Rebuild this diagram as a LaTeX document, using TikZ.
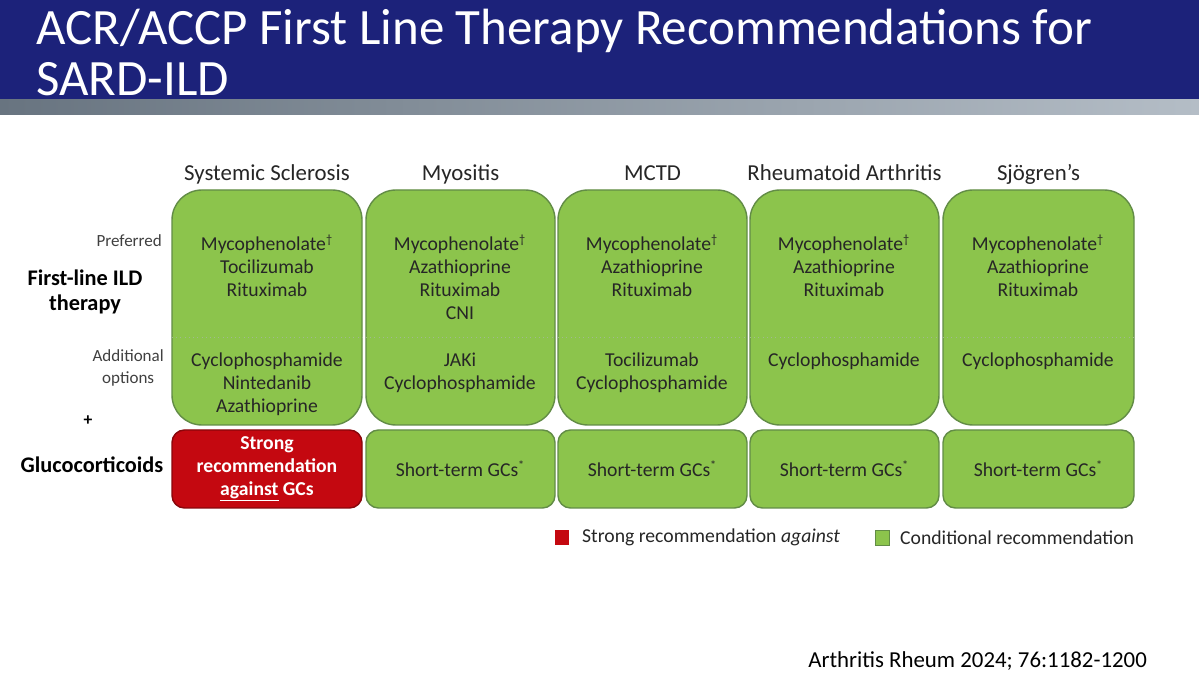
\documentclass[tikz,border=0pt]{standalone}
\usepackage{fontspec}
\setmainfont{Carlito}
\usetikzlibrary{positioning}
\definecolor{navy}{RGB}{28,34,122}
\definecolor{gfill}{RGB}{140,196,76}
\definecolor{gline}{RGB}{98,140,70}
\definecolor{rfill}{RGB}{196,8,16}
\definecolor{bar}{RGB}{130,145,160}
\newcommand{\dg}{\textsuperscript{\scriptsize †}}
\begin{document}
\begin{tikzpicture}[x=0.02cm,y=-0.02cm,
  topbox/.style={draw=gline,line width=0.8pt,fill=gfill,rounded corners=0.6cm},
  botbox/.style={draw=gline,line width=0.8pt,fill=gfill,rounded corners=0.25cm},
  txt/.style={font=\fontsize{11.2}{13.1}\selectfont,align=center,text=black!85},
  hdr/.style={font=\fontsize{13}{14}\selectfont,text=black!85},
  lab/.style={font=\fontsize{9.7}{12}\selectfont,text=black!75,align=right},
  biglab/.style={font=\fontsize{12.7}{14}\selectfont\bfseries,align=center}]
\useasboundingbox (0,0) rectangle (1199,688);
\fill[white] (0,0) rectangle (1199,688);
\fill[navy] (0,0) rectangle (1199,100);
\shade[left color=bar!80!black,right color=bar!60] (0,100) rectangle (1199,115);
\node[anchor=base west,text=white,font=\fontsize{29}{29}\selectfont] (t1) at (30,45) {ACR/ACCP First Line Therapy Recommendations for};
\node[anchor=base west,text=white,font=\fontsize{29}{29}\selectfont] (t2) at (30,96) {SARD-ILD};
% columns
\foreach \i/\a/\b/\h in {1/172/362/Systemic Sclerosis,2/366/555/Myositis,3/558/747/MCTD,4/750/939/Rheumatoid Arthritis,5/943/1134/Sjögren’s}{
  \draw[topbox] (\a,190) rectangle (\b,425);
  \draw[gline!60,dotted] (\a,337) -- (\b,337);
  \node[hdr,anchor=base] (h\i) at ({(\a+\b)/2},181) {\h};
}
\foreach \i/\a/\b in {2/366/555,3/558/747,4/750/939,5/943/1134}{
  \draw[botbox] (\a,430) rectangle (\b,508);
  \node[txt] (g\i) at ({(\a+\b)/2},469) {Short-term GCs\textsuperscript{\scriptsize *}};
}
\draw[botbox,fill=rfill,draw=rfill!70!black] (172,430) rectangle (362,508);
\node[txt,text=white,font=\fontsize{11.2}{13.1}\selectfont\bfseries] (g1) at (267,469) {Strong\\recommendation\\\underline{against} GCs};
% preferred
\node[txt,anchor=north] (p1) at (267,229) {Mycophenolate\dg\\Tocilizumab\\Rituximab};
\node[txt,anchor=north] (p2) at (460,229) {Mycophenolate\dg\\Azathioprine\\Rituximab\\CNI};
\node[txt,anchor=north] (p3) at (652,229) {Mycophenolate\dg\\Azathioprine\\Rituximab};
\node[txt,anchor=north] (p4) at (844,229) {Mycophenolate\dg\\Azathioprine\\Rituximab};
\node[txt,anchor=north] (p5) at (1038,229) {Mycophenolate\dg\\Azathioprine\\Rituximab};
% additional
\node[txt,anchor=north] (a1) at (267,347) {Cyclophosphamide\\Nintedanib\\Azathioprine};
\node[txt,anchor=north] (a2) at (460,347) {JAKi\\Cyclophosphamide};
\node[txt,anchor=north] (a3) at (652,347) {Tocilizumab\\Cyclophosphamide};
\node[txt,anchor=north] (a4) at (844,347) {Cyclophosphamide};
\node[txt,anchor=north] (a5) at (1038,347) {Cyclophosphamide};
% left labels
\node[lab,anchor=east] (lp) at (168,241) {Preferred};
\node[lab,anchor=east,align=center] (la) at (170,368) {Additional\\options};
\node[biglab] (lf) at (85,292) {First-line ILD\\therapy};
\node[biglab,font=\fontsize{10}{10}\selectfont\bfseries] (plus) at (88,421) {+};
\node[biglab] (lg) at (92,465) {Glucocorticoids};
% legend
\fill[rfill] (555,530) rectangle (569,545);
\node[anchor=west,txt] (l1) at (576,537.5) {Strong recommendation \textit{against}};
\draw[gline,fill=gfill] (875,530) rectangle (889,545);
\node[anchor=west,txt] (l2) at (894,537.5) {Conditional recommendation};
\node[anchor=east,font=\fontsize{13}{14}\selectfont] (cite) at (1153,661) {Arthritis Rheum 2024; 76:1182-1200};
\end{tikzpicture}
\end{document}
